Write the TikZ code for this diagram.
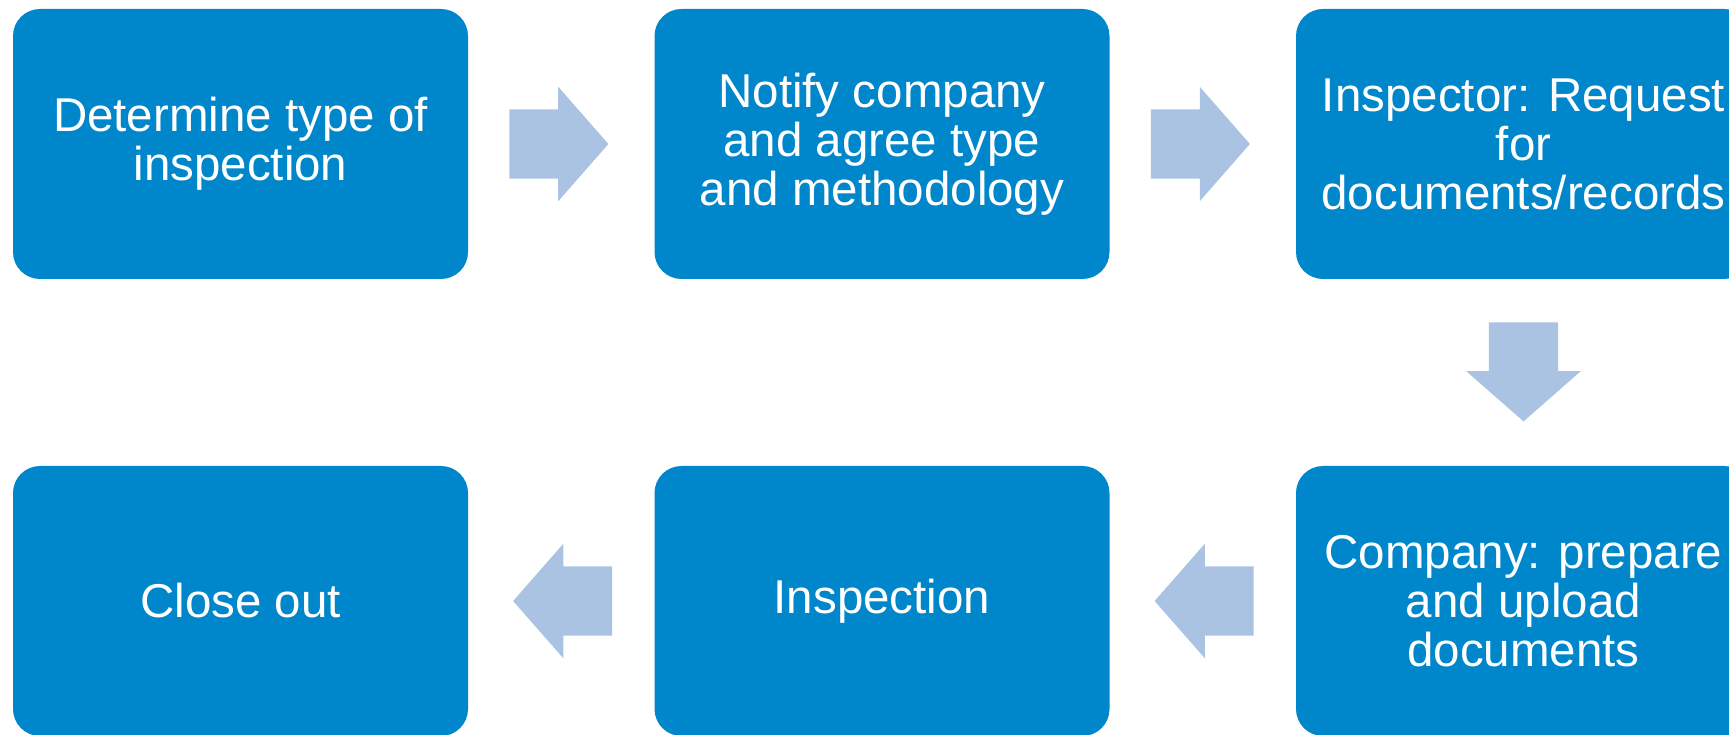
\documentclass[tikz,border=0pt]{standalone}
\usepackage{fontspec}
\setmainfont{Liberation Sans}
\usepackage{xcolor}
\usetikzlibrary{shapes.arrows,calc}
\definecolor{stepblue}{RGB}{0,134,202}
\definecolor{flowblue}{RGB}{171,195,226}

\begin{document}
\begin{tikzpicture}[x=1pt, y=1pt,
  stepbox/.style={rectangle, rounded corners=27pt, fill=stepblue, text=white,
    minimum width=455pt, minimum height=270pt, align=center,
    font=\fontsize{47.5}{49}\selectfont},
  flow/.style={single arrow, fill=flowblue, draw=none, anchor=tail,
    inner xsep=0pt, inner ysep=34.5pt, minimum height=99pt,
    single arrow head extend=22.5pt, single arrow tip angle=97.5}]
\useasboundingbox (0,0) rectangle (1729,734);

% Top row
\node[stepbox] (S1) at (240.5,590) {Determine type of\\inspection};
\node[stepbox] (S2) at (882,590) {Notify company\\and agree type\\and methodology};
\node[stepbox] (S3) at (1523.5,590) {Inspector: Request\\for\\documents/records};

% Bottom row
\node[stepbox] (S4) at (1523.5,133) {Company: prepare\\and upload\\documents};
\node[stepbox] (S5) at (882,133) {Inspection};
\node[stepbox] (S6) at (240.5,133) {Close out};

% Arrows
\node[flow] (A12) at ($(S1.east)+(41,0)$) {};
\node[flow] (A23) at ($(S2.east)+(41,0)$) {};
\node[flow, rotate=-90] (A34) at ($(S3.south)+(0,-43)$) {};
\node[flow, rotate=180] (A45) at ($(S4.west)+(-42,0)$) {};
\node[flow, rotate=180] (A56) at ($(S5.west)+(-42,0)$) {};

\end{tikzpicture}
\end{document}
